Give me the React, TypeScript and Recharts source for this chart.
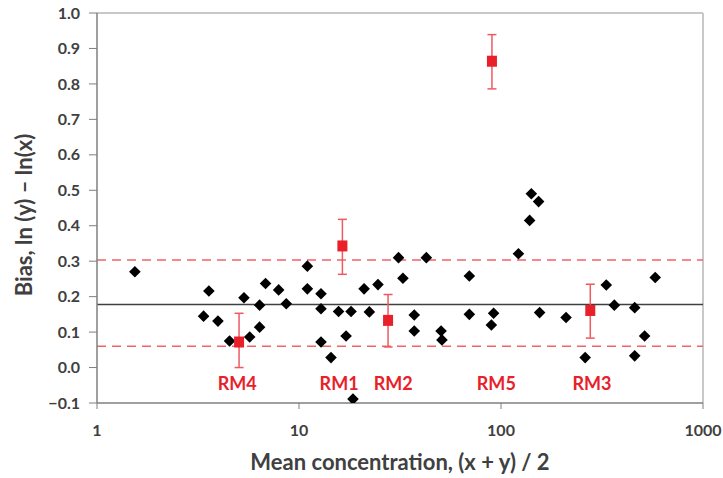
import React from "react";
import {
  ScatterChart,
  Scatter,
  XAxis,
  YAxis,
  ReferenceLine,
  ErrorBar,
  Label,
} from "recharts";

// black diamonds: mean concentration vs bias
const pointX = [
  1.54, 3.58, 3.37, 3.97, 4.53, 5.34, 5.7, 6.38, 6.38, 6.83, 7.93, 8.65,
  11.0, 11.0, 12.85, 12.85, 12.85, 14.4, 15.7, 17.1, 18.1, 18.5, 21.0, 22.3,
  24.6, 31.1, 32.7, 37.2, 37.2, 42.7, 50.5, 51.0, 69.7, 69.7, 91.9, 89.6,
  122, 138.6, 141.3, 153.5, 155.3, 209.9, 261, 332, 364, 459, 459, 514, 580,
];
const pointY = [
  0.27, 0.216, 0.145, 0.131, 0.075, 0.197, 0.086, 0.114, 0.176, 0.237, 0.219,
  0.18, 0.286, 0.222, 0.208, 0.166, 0.072, 0.028, 0.158, 0.089, 0.158, -0.089,
  0.222, 0.157, 0.234, 0.31, 0.252, 0.148, 0.103, 0.31, 0.103, 0.078, 0.258,
  0.15, 0.153, 0.12, 0.321, 0.415, 0.49, 0.468, 0.155, 0.141, 0.028, 0.233,
  0.176, 0.169, 0.033, 0.089, 0.254,
];

// reference materials with uncertainty
const rmNames = ["RM4", "RM1", "RM2", "RM5", "RM3"];
const rmX = [5.05, 16.4, 27.6, 90.2, 276.7];
const rmY = [0.072, 0.343, 0.133, 0.864, 0.161];
const rmLow = [0.0, 0.263, 0.058, 0.786, 0.083];
const rmHigh = [0.153, 0.418, 0.206, 0.939, 0.235];
const rmLabelX = [4.95, 15.8, 29.3, 94.8, 282];
const rmLabelY = -0.044;

const meanBias = 0.178;
const upperLimit = 0.303;
const lowerLimit = 0.06;

const xTicks = [1, 10, 100, 1000];
const yTicks = [-0.1, 0, 0.1, 0.2, 0.3, 0.4, 0.5, 0.6, 0.7, 0.8, 0.9, 1.0];

const points = pointX.map((x, i) => ({ x, y: pointY[i] }));
const rmData = rmNames.map((name, i) => ({
  name,
  x: rmX[i],
  y: rmY[i],
  err: [rmY[i] - rmLow[i], rmHigh[i] - rmY[i]],
}));
const labelData = rmNames.map((name, i) => ({ name, x: rmLabelX[i], y: rmLabelY }));

const FONT = "Lato, 'Open Sans', sans-serif";
const RED = "#e8202a";
const TICK_COLOR = "#404040";

const Diamond = (props: any) => {
  const { cx, cy } = props;
  const r = 5.8;
  return (
    <polygon
      points={`${cx},${cy - r} ${cx + r},${cy} ${cx},${cy + r} ${cx - r},${cy}`}
      fill="#000"
    />
  );
};

const Square = (props: any) => {
  const { cx, cy } = props;
  return <rect x={cx - 5} y={cy - 5.5} width={10} height={11} fill={RED} />;
};

const RmLabel = (props: any) => {
  const { cx, cy, payload } = props;
  return (
    <text
      x={cx}
      y={cy}
      textAnchor="middle"
      dominantBaseline="central"
      fill={RED}
      fontFamily={FONT}
      fontWeight={700}
      fontSize={18}
    >
      {payload.name}
    </text>
  );
};

const YTitle = (props: any) => {
  const { viewBox } = props;
  const cx = 23;
  const cy = viewBox.y + viewBox.height / 2 + 7;
  return (
    <text
      x={cx}
      y={cy}
      transform={`rotate(-90 ${cx} ${cy})`}
      textAnchor="middle"
      dominantBaseline="central"
      fontFamily={FONT}
      fontWeight={700}
      fontSize={22}
      fill={TICK_COLOR}
    >
      {"Bias, ln (y) \u2013 ln(x)"}
    </text>
  );
};

const fmtY = (v: number) => (v < 0 ? "\u2212" + Math.abs(v).toFixed(1) : v.toFixed(1));

export default function App() {
  const tickStyle = {
    fontFamily: FONT,
    fontWeight: 700,
    fontSize: 16,
    fill: TICK_COLOR,
  };
  return (
    <div style={{ position: "absolute", left: 0, top: 0, background: "#fff" }}>
      <ScatterChart
        width={723}
        height={478}
        margin={{ top: 13, right: 20, bottom: 0, left: 0 }}
      >
        <XAxis
          type="number"
          dataKey="x"
          scale="log"
          domain={[1, 1000]}
          ticks={xTicks}
          allowDataOverflow
          height={75}
          tick={tickStyle}
          tickSize={6}
          tickMargin={16}
          axisLine={{ stroke: "#7f7f7f", strokeWidth: 1.5 }}
          tickLine={{ stroke: "#7f7f7f" }}
        >
          <Label
            value="Mean concentration, (x + y) / 2"
            position="insideBottom"
            offset={8}
            style={{
              fontFamily: FONT,
              fontWeight: 700,
              fontSize: 22,
              fill: TICK_COLOR,
            }}
          />
        </XAxis>
        <YAxis
          type="number"
          dataKey="y"
          domain={[-0.1, 1.0]}
          ticks={yTicks}
          allowDataOverflow
          width={97}
          tick={tickStyle}
          tickFormatter={fmtY}
          tickSize={8}
          tickMargin={9}
          axisLine={{ stroke: "#7f7f7f", strokeWidth: 1.5 }}
          tickLine={{ stroke: "#7f7f7f" }}
        >
          <Label content={YTitle} />
        </YAxis>
        <ReferenceLine y={1.0} stroke="#c8c8c8" strokeWidth={2} />
        <ReferenceLine x={1000} stroke="#c8c8c8" strokeWidth={2} />
        <ReferenceLine y={meanBias} stroke="#404040" strokeWidth={1.5} />
        <ReferenceLine
          y={upperLimit}
          stroke="#f0636b"
          strokeWidth={1.5}
          strokeDasharray="9 6"
        />
        <ReferenceLine
          y={lowerLimit}
          stroke="#f0636b"
          strokeWidth={1.5}
          strokeDasharray="9 6"
        />
        <Scatter data={points} shape={Diamond} isAnimationActive={false} />
        <Scatter data={rmData} shape={Square} isAnimationActive={false}>
          <ErrorBar
            dataKey="err"
            direction="y"
            width={4.5}
            stroke="#ef5a62"
            strokeWidth={1.5}
            isAnimationActive={false}
          />
        </Scatter>
        <Scatter data={labelData} shape={RmLabel} isAnimationActive={false} />
      </ScatterChart>
    </div>
  );
}
